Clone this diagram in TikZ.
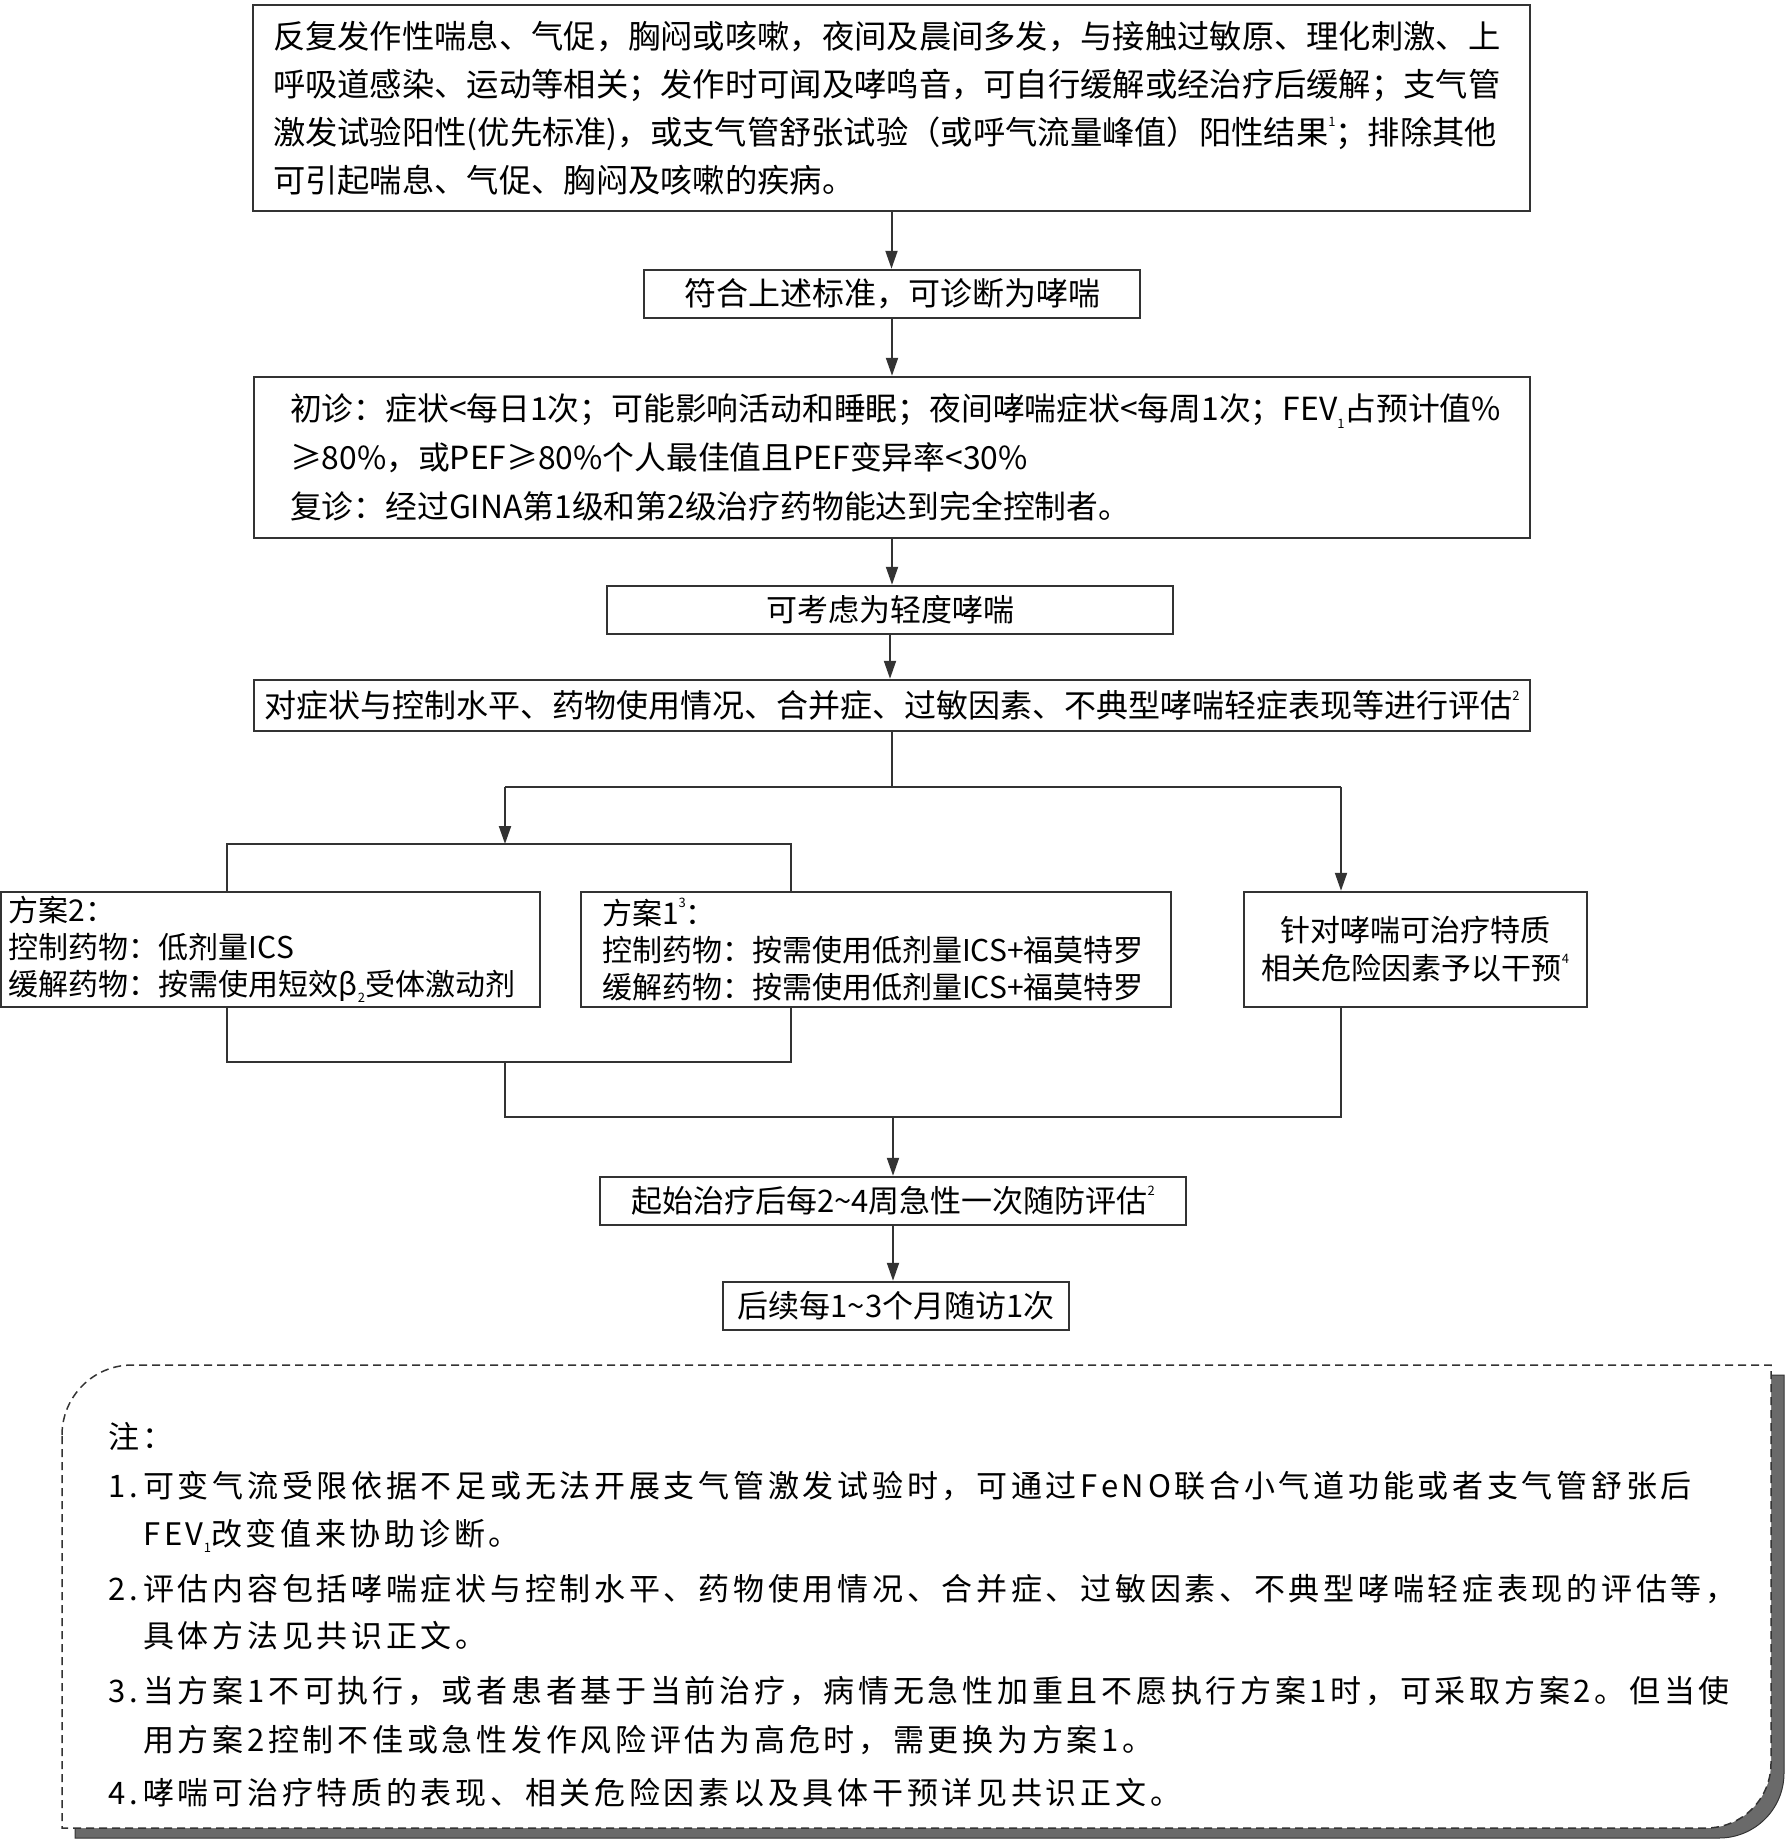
\documentclass[tikz,border=0pt]{standalone}
\usepackage{fontspec}
\setmainfont{Noto Sans CJK SC}
\newfontfamily\notefont{Noto Sans CJK SC}[LetterSpace=12]
\usetikzlibrary{arrows.meta}
\definecolor{ln}{HTML}{333333}
\definecolor{shd}{HTML}{6A6A6A}
\newcommand\mysup[1]{\raisebox{0.55em}{\fontsize{13pt}{13pt}\selectfont #1}}
\newcommand\mysub[1]{\raisebox{-0.25em}{\fontsize{13pt}{13pt}\selectfont #1}}
\newcommand\fsz[2]{\fontsize{#1pt}{#2pt}\selectfont}
\newcommand\tld{\char"007E\relax}
\begin{document}
\begin{tikzpicture}[x=1pt,y=-1pt,
  box/.style={draw=ln, line width=2.5pt, fill=white, inner sep=0pt, text=black},
  conn/.style={draw=ln, line width=2pt},
  arr/.style={conn, -{Triangle[length=18pt,width=12pt]}},
  note/.style={anchor=base west, inner sep=0pt, font=\notefont\fsz{31}{31}}
]
\useasboundingbox (0,0) rectangle (1787,1842);
\fill[white] (0,0) rectangle (1787,1842);

% main flow boxes
\node[box, minimum width=1277pt, minimum height=206pt, text width=1237pt, align=left, font=\fsz{32.3}{48}] (b1) at (891.5,108)
{反复发作性喘息、气促，胸闷或咳嗽，夜间及晨间多发，与接触过敏原、理化刺激、上\\
呼吸道感染、运动等相关；发作时可闻及哮鸣音，可自行缓解或经治疗后缓解；支气管\\
激发试验阳性(优先标准)，或支气管舒张试验（或呼气流量峰值）阳性结果\mysup{1}；排除其他\\
可引起喘息、气促、胸闷及咳嗽的疾病。};

\node[box, minimum width=496pt, minimum height=48pt, font=\fsz{32}{40}] (b2) at (892,294) {符合上述标准，可诊断为哮喘};

\node[box, minimum width=1276pt, minimum height=161pt, text width=1204pt, align=left, font=\fsz{31.8}{49}] (b3) at (892,457.5)
{初诊：症状<每日1次；可能影响活动和睡眠；夜间哮喘症状<每周1次；FEV\mysub{1}占预计值\%\\
≥80\%，或PEF≥80\%个人最佳值且PEF变异率<30\%\\
复诊：经过GINA第1级和第2级治疗药物能达到完全控制者。};

\node[box, minimum width=566pt, minimum height=48pt, font=\fsz{31}{40}] (b4) at (890,610) {可考虑为轻度哮喘};

\node[box, minimum width=1276pt, minimum height=51pt, font=\fsz{32}{40}] (b5) at (892,705.5)
{对症状与控制水平、药物使用情况、合并症、过敏因素、不典型哮喘轻症表现等进行评估\mysup{2}};

\node[box, minimum width=539pt, minimum height=115pt, text width=523pt, align=left, font=\fsz{30}{37}] (p2) at (270.5,949.5)
{方案2：\\
控制药物：低剂量ICS\\
缓解药物：按需使用短效β\mysub{2}受体激动剂};

\node[box, minimum width=590pt, minimum height=115pt, text width=548pt, align=left, font=\fsz{30}{37}] (p1) at (876,949.5)
{方案1\mysup{3}：\\
控制药物：按需使用低剂量ICS+福莫特罗\\
缓解药物：按需使用低剂量ICS+福莫特罗};

\node[box, minimum width=343pt, minimum height=115pt, align=center, font=\fsz{30}{38}] (rb) at (1415.5,949.5)
{针对哮喘可治疗特质\\
相关危险因素予以干预\mysup{4}};

\node[box, minimum width=586pt, minimum height=48pt, font=\fsz{31}{40}] (s1) at (893,1201)
{起始治疗后每2\tld 4周急性一次随防评估\mysup{2}};

\node[box, minimum width=346pt, minimum height=48pt, font=\fsz{31}{40}] (s2) at (896,1306)
{后续每1\tld 3个月随访1次};

% connectors
\draw[arr] (b1.south) -- (b1.south |- b2.north);
\draw[arr] (b2.south) -- (b2.south |- b3.north);
\draw[arr] (b3.south) -- (b3.south |- b4.north);
\draw[arr] (b4.south) -- (b4.south |- b5.north);

\coordinate (j1) at (892,787);
\coordinate (jL) at (505,787);
\coordinate (jR) at (1341,787);
\coordinate (bl) at (227,844);
\coordinate (br) at (791,844);
\draw[conn] (b5.south) -- (j1);
\draw[conn] (jL) -- (jR);
\draw[arr] (jL) -- (jL |- bl);
\draw[arr] (jR) -- (jR |- rb.north);
\draw[conn] (bl |- p2.north) -- (bl) -- (br) -- (br |- p1.north);

\coordinate (ll) at (227,1062);
\coordinate (lr) at (791,1062);
\coordinate (lm) at (505,1062);
\coordinate (m2) at (505,1117);
\coordinate (m3) at (1341,1117);
\coordinate (m4) at (893,1117);
\draw[conn] (ll |- p2.south) -- (ll) -- (lr) -- (lr |- p1.south);
\draw[conn] (lm) -- (m2) -- (m3) -- (m3 |- rb.south);
\draw[arr] (m4) -- (m4 |- s1.north);
\draw[arr] (s1.south) -- (s1.south |- s2.north);

% notes panel
\filldraw[fill=shd, draw=ln, line width=1pt, shift={(13,10)}]
  (62,1435) .. controls (62,1396.4) and (93.4,1365) .. (132,1365) -- (1771,1365) -- (1771,1763)
  .. controls (1771,1799.5) and (1741.5,1828) .. (1706,1828) -- (62,1828) -- cycle;
\filldraw[fill=white, draw=ln, line width=1.5pt, dash pattern=on 8pt off 5pt]
  (62,1435) .. controls (62,1396.4) and (93.4,1365) .. (132,1365) -- (1771,1365) -- (1771,1763)
  .. controls (1771,1799.5) and (1741.5,1828) .. (1706,1828) -- (62,1828) -- cycle;

\node[note] (n0) at (108,1448) {注：};
\node[note] (n1) at (108,1497) {\makebox[35pt][l]{1.}可变气流受限依据不足或无法开展支气管激发试验时，可通过FeNO联合小气道功能或者支气管舒张后};
\node[note] (n1b) at (143,1545) {FEV\mysub{1}改变值来协助诊断。};
\node[note] (n2) at (108,1600) {\makebox[35pt][l]{2.}评估内容包括哮喘症状与控制水平、药物使用情况、合并症、过敏因素、不典型哮喘轻症表现的评估等，};
\node[note] (n2b) at (143,1647) {具体方法见共识正文。};
\node[note] (n3) at (108,1702) {\makebox[35pt][l]{3.}当方案1不可执行，或者患者基于当前治疗，病情无急性加重且不愿执行方案1时，可采取方案2。但当使};
\node[note] (n3b) at (143,1751) {用方案2控制不佳或急性发作风险评估为高危时，需更换为方案1。};
\node[note] (n4) at (108,1804) {\makebox[35pt][l]{4.}哮喘可治疗特质的表现、相关危险因素以及具体干预详见共识正文。};
\end{tikzpicture}
\end{document}
